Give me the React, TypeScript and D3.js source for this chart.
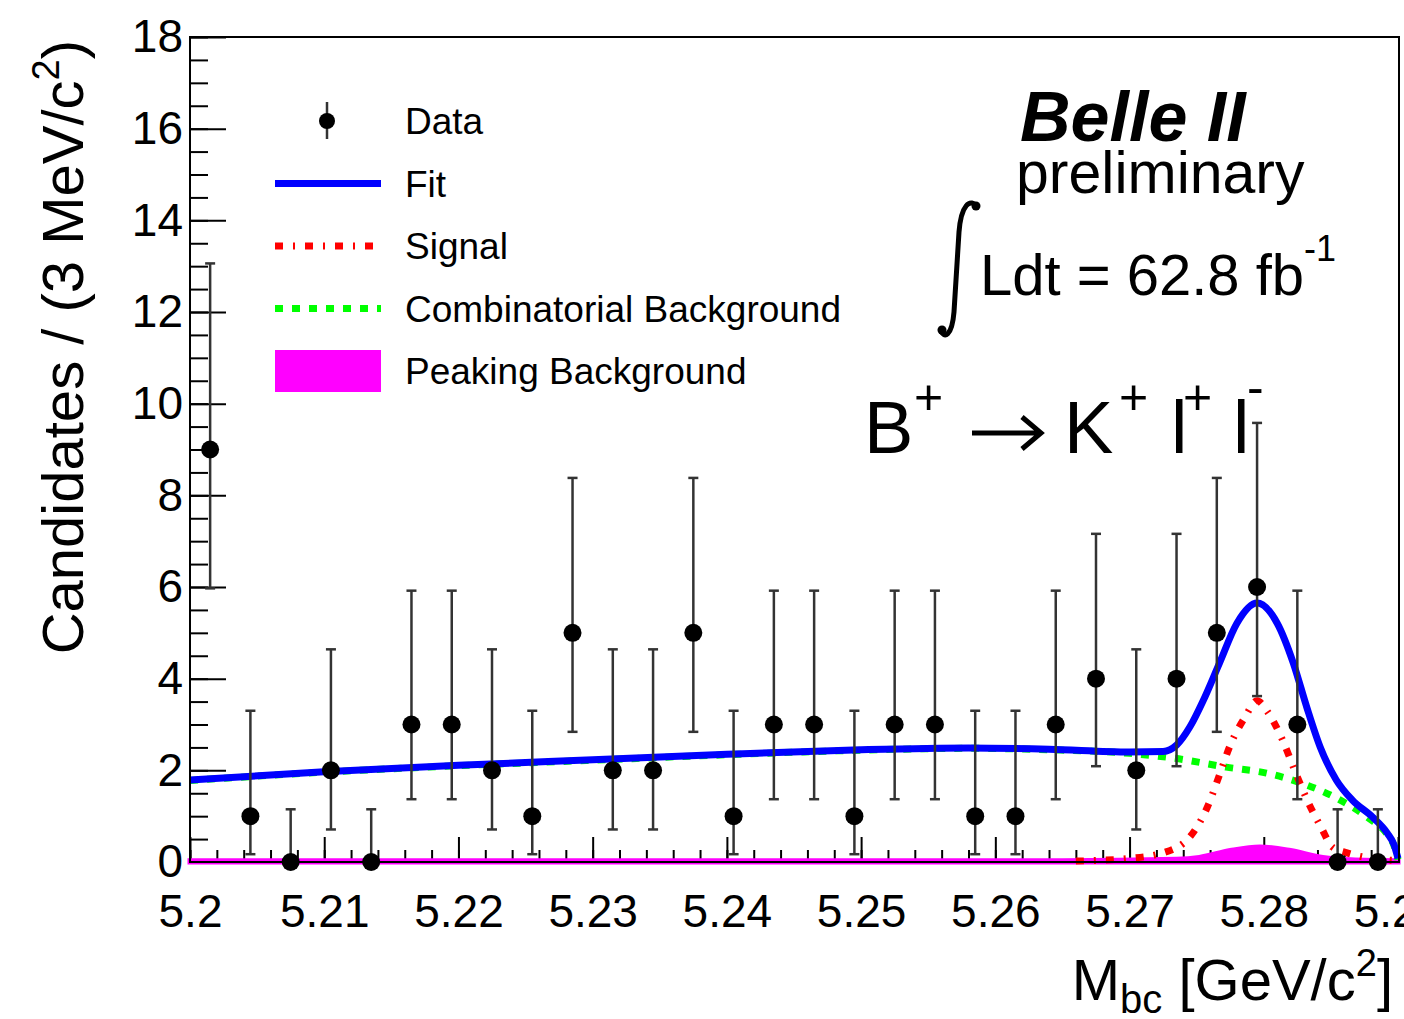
import React, { useRef, useEffect } from "react";
import * as d3 from "d3";

// M_bc bins (3 MeV wide) and observed candidates
const binCenters = [
  5.2015, 5.2045, 5.2075, 5.2105, 5.2135, 5.2165, 5.2195, 5.2225, 5.2255, 5.2285,
  5.2315, 5.2345, 5.2375, 5.2405, 5.2435, 5.2465, 5.2495, 5.2525, 5.2555, 5.2585,
  5.2615, 5.2645, 5.2675, 5.2705, 5.2735, 5.2765, 5.2795, 5.2825, 5.2855, 5.2885,
];
const counts = [9, 1, 0, 2, 0, 3, 3, 2, 1, 5, 2, 2, 5, 1, 3, 3, 1, 3, 3, 1, 1, 3, 4, 2, 4, 5, 6, 3, 0, 0];
// asymmetric (Poisson) error bar ends
const errLow = [
  5.97, 0.17, 0, 0.71, 0, 1.37, 1.37, 0.71, 0.17, 2.84,
  0.71, 0.71, 2.84, 0.17, 1.37, 1.37, 0.17, 1.37, 1.37, 0.17,
  0.17, 1.37, 2.09, 0.71, 2.09, 2.84, 3.62, 1.37, 0, 0,
];
const errHigh = [
  13.06, 3.3, 1.15, 4.64, 1.15, 5.92, 5.92, 4.64, 3.3, 8.38,
  4.64, 4.64, 8.38, 3.3, 5.92, 5.92, 3.3, 5.92, 5.92, 3.3,
  3.3, 5.92, 7.16, 4.64, 7.16, 8.38, 9.58, 5.92, 1.15, 1.15,
];

// fit components
const fitX = [5.2, 5.21, 5.22, 5.23, 5.24, 5.25, 5.258, 5.264, 5.27, 5.2725, 5.2735, 5.2745, 5.2755, 5.2767, 5.278, 5.2795, 5.281, 5.2822, 5.2832, 5.2842, 5.2854, 5.2866, 5.2881, 5.2892, 5.2897, 5.29];
const fitY = [1.79, 1.97, 2.11, 2.23, 2.35, 2.45, 2.49, 2.46, 2.4, 2.41, 2.55, 2.95, 3.53, 4.34, 5.21, 5.65, 5.21, 4.34, 3.38, 2.51, 1.79, 1.35, 0.98, 0.63, 0.38, 0.08];
const combX = [5.2, 5.21, 5.22, 5.23, 5.24, 5.25, 5.258, 5.264, 5.27, 5.2732, 5.2772, 5.2802, 5.2832, 5.2857, 5.2877, 5.2892, 5.2897, 5.29];
const combY = [1.78, 1.96, 2.1, 2.22, 2.34, 2.44, 2.48, 2.45, 2.37, 2.27, 2.07, 1.94, 1.68, 1.35, 0.98, 0.6, 0.36, 0.05];
const sigX = [5.266, 5.27, 5.2725, 5.2745, 5.2758, 5.2767, 5.2775, 5.2786, 5.2795, 5.2803, 5.2814, 5.2823, 5.2833, 5.2843, 5.2851, 5.2862, 5.288, 5.29];
const sigY = [0.02, 0.08, 0.2, 0.55, 1.2, 1.9, 2.55, 3.16, 3.52, 3.27, 2.66, 2.0, 1.31, 0.74, 0.33, 0.2, 0.08, 0.03];
const peakX = [5.2, 5.265, 5.2735, 5.2752, 5.2775, 5.2797, 5.282, 5.2844, 5.2865, 5.29];
const peakY = [0.03, 0.03, 0.06, 0.1, 0.25, 0.33, 0.25, 0.1, 0.05, 0.03];

const xMajor = [5.2, 5.21, 5.22, 5.23, 5.24, 5.25, 5.26, 5.27, 5.28, 5.29];
const yMajor = [0, 2, 4, 6, 8, 10, 12, 14, 16, 18];

const legendItems = ["Data", "Fit", "Signal", "Combinatorial Background", "Peaking Background"];

const FONT = "'Liberation Sans', Arial, Helvetica, sans-serif";

export default function App() {
  const svgRef = useRef(null);

  useEffect(() => {
    const svg = d3.select(svgRef.current);
    svg.selectAll("*").remove();

    const left = 190, right = 1399, top = 37, bottom = 862;
    const x = d3.scaleLinear().domain([5.2, 5.29]).range([left, right - 1]);
    const y = d3.scaleLinear().domain([0, 18]).range([bottom, top]);

    // axes (ROOT style: ticks inside the frame)
    const xMinor = d3.range(0, 46).map(i => 5.2 + i * 0.002);
    const yMinor = d3.range(0, 37).map(i => i * 0.5);

    const gx = svg.append("g").attr("transform", `translate(0,${bottom})`);
    gx.call(d3.axisBottom(x).tickValues(xMinor).tickSize(-12).tickFormat(() => ""));
    const gx2 = svg.append("g").attr("transform", `translate(0,${bottom})`);
    gx2.call(d3.axisBottom(x).tickValues(xMajor).tickSize(-25).tickPadding(32).tickFormat(d3.format("")));

    const gy = svg.append("g").attr("transform", `translate(${left},0)`);
    gy.call(d3.axisLeft(y).tickValues(yMinor).tickSize(-18).tickFormat(() => ""));
    const gy2 = svg.append("g").attr("transform", `translate(${left},0)`);
    gy2.call(d3.axisLeft(y).tickValues(yMajor).tickSize(-36).tickPadding(7));

    svg.selectAll(".domain").remove();
    svg.selectAll(".tick line").attr("stroke", "#000").attr("stroke-width", 2);
    svg.selectAll(".tick text").attr("font-family", FONT).attr("font-size", 46).attr("fill", "#000");

    // peaking background
    const peakArea = d3.area()
      .x((d, i) => x(peakX[i]))
      .y0(y(0))
      .y1(d => y(d))
      .curve(d3.curveMonotoneX);
    svg.append("path")
      .datum(peakY)
      .attr("d", peakArea)
      .attr("fill", "#ff00ff")
      .attr("stroke", "#ff00ff")
      .attr("stroke-width", 5);

    const line = (xs) => d3.line()
      .x((d, i) => x(xs[i]))
      .y(d => y(d))
      .curve(d3.curveMonotoneX);

    svg.append("path").datum(combY).attr("d", line(combX))
      .attr("fill", "none").attr("stroke", "#00ff00").attr("stroke-width", 7)
      .attr("stroke-dasharray", "8,9");

    svg.append("path").datum(sigY).attr("d", line(sigX))
      .attr("fill", "none").attr("stroke", "#ff0000").attr("stroke-width", 7)
      .attr("stroke-dasharray", "8,10,2,10");

    svg.append("path").datum(fitY).attr("d", line(fitX))
      .attr("fill", "none").attr("stroke", "#0000ff").attr("stroke-width", 7)
      .attr("stroke-linejoin", "round");

    // data points with error bars
    const pts = svg.append("g");
    counts.forEach((c, i) => {
      const cx = x(binCenters[i]);
      pts.append("line")
        .attr("x1", cx).attr("x2", cx)
        .attr("y1", y(errLow[i])).attr("y2", y(errHigh[i]))
        .attr("stroke", "#333").attr("stroke-width", 2.5);
      [errLow[i], errHigh[i]].forEach(v => {
        pts.append("line")
          .attr("x1", cx - 5).attr("x2", cx + 5)
          .attr("y1", y(v)).attr("y2", y(v))
          .attr("stroke", "#333").attr("stroke-width", 2.5);
      });
      pts.append("circle").attr("cx", cx).attr("cy", y(c)).attr("r", 9).attr("fill", "#000");
    });

    // frame
    svg.append("rect")
      .attr("x", left).attr("y", top)
      .attr("width", right - left).attr("height", bottom - top)
      .attr("fill", "none").attr("stroke", "#000").attr("stroke-width", 2);

    // legend
    const lg = svg.append("g");
    const rowY = (i) => 121 + i * 62.5;
    lg.append("line").attr("x1", 327).attr("x2", 327).attr("y1", rowY(0) - 19).attr("y2", rowY(0) + 18)
      .attr("stroke", "#333").attr("stroke-width", 2.5);
    lg.append("circle").attr("cx", 327).attr("cy", rowY(0)).attr("r", 8).attr("fill", "#000");
    lg.append("line").attr("x1", 275).attr("x2", 381).attr("y1", rowY(1)).attr("y2", rowY(1))
      .attr("stroke", "#0000ff").attr("stroke-width", 7);
    lg.append("line").attr("x1", 275).attr("x2", 381).attr("y1", rowY(2)).attr("y2", rowY(2))
      .attr("stroke", "#ff0000").attr("stroke-width", 7).attr("stroke-dasharray", "8,10,2,10");
    lg.append("line").attr("x1", 275).attr("x2", 381).attr("y1", rowY(3)).attr("y2", rowY(3))
      .attr("stroke", "#00ff00").attr("stroke-width", 7).attr("stroke-dasharray", "8,9");
    lg.append("rect").attr("x", 275).attr("y", rowY(4) - 21).attr("width", 106).attr("height", 42)
      .attr("fill", "#ff00ff");
    legendItems.forEach((t, i) => {
      lg.append("text").attr("x", 405).attr("y", rowY(i)).attr("dy", "0.36em")
        .attr("font-family", FONT).attr("font-size", 37).text(t);
    });

    // axis titles
    const yt = svg.append("text")
      .attr("transform", "translate(83,40) rotate(-90)")
      .attr("text-anchor", "end")
      .attr("font-family", FONT).attr("font-size", 58);
    yt.append("tspan").text("Candidates / (3 MeV/c");
    yt.append("tspan").attr("font-size", 38).attr("dy", -24).text("2");
    yt.append("tspan").attr("dy", 24).text(")");

    const xt = svg.append("text")
      .attr("x", 1393).attr("y", 1000)
      .attr("text-anchor", "end")
      .attr("font-family", FONT).attr("font-size", 58);
    xt.append("tspan").text("M");
    xt.append("tspan").attr("font-size", 40).attr("dy", 13).text("bc");
    xt.append("tspan").attr("dy", -13).text(" [GeV/c");
    xt.append("tspan").attr("font-size", 38).attr("dy", -24).text("2");
    xt.append("tspan").attr("dy", 24).text("]");

    // labels
    svg.append("text").attr("x", 1020).attr("y", 141)
      .attr("font-family", FONT).attr("font-size", 70)
      .attr("font-weight", "bold").attr("font-style", "italic").text("Belle II");
    svg.append("text").attr("x", 1016).attr("y", 193)
      .attr("font-family", FONT).attr("font-size", 59).text("preliminary");

    svg.append("path")
      .attr("d", "M 978 208 C 970 196, 961 206, 959 232 L 954 312 C 952 336, 944 340, 940 329")
      .attr("fill", "none").attr("stroke", "#000").attr("stroke-width", 5);
    svg.append("circle").attr("cx", 976).attr("cy", 206).attr("r", 4.5).attr("fill", "#000");
    svg.append("circle").attr("cx", 942).attr("cy", 330).attr("r", 4.5).attr("fill", "#000");

    const lum = svg.append("text").attr("x", 980).attr("y", 295)
      .attr("font-family", FONT).attr("font-size", 58);
    lum.append("tspan").text("Ldt = 62.8 fb");
    lum.append("tspan").attr("font-size", 36).attr("dy", -34).text("-1");

    const dec = svg.append("g").attr("font-family", FONT);
    dec.append("text").attr("x", 864).attr("y", 453).attr("font-size", 74).text("B");
    dec.append("text").attr("x", 914).attr("y", 414).attr("font-size", 50).text("+");
    dec.append("path").attr("d", "M 972 433 L 1040 433 M 1022 417 L 1041 433 L 1022 449")
      .attr("fill", "none").attr("stroke", "#000").attr("stroke-width", 5);
    dec.append("text").attr("x", 1064).attr("y", 453).attr("font-size", 74).text("K");
    dec.append("text").attr("x", 1119).attr("y", 414).attr("font-size", 50).text("+");
    dec.append("text").attr("x", 1171).attr("y", 453).attr("font-size", 74).text("l");
    dec.append("text").attr("x", 1183).attr("y", 414).attr("font-size", 50).text("+");
    dec.append("text").attr("x", 1233).attr("y", 453).attr("font-size", 74).text("l");
    dec.append("text").attr("x", 1247).attr("y", 404).attr("font-size", 50).text("-");
  }, []);

  return (
    <svg
      ref={svgRef}
      width={1404}
      height={1019}
      style={{ position: "absolute", left: 0, top: 0, background: "#fff" }}
    />
  );
}
